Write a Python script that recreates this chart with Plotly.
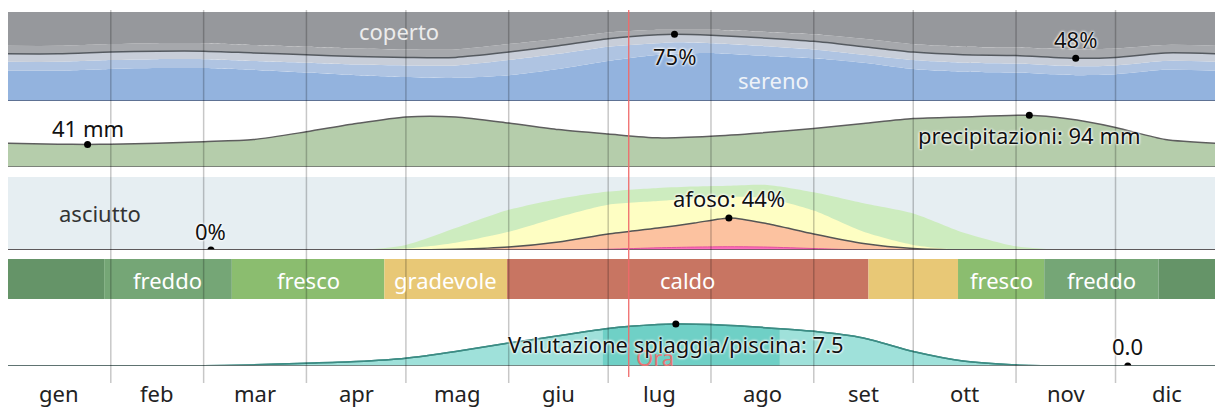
import plotly.graph_objects as go

# ---------------- data ----------------
months = ["gen", "feb", "mar", "apr", "mag", "giu", "lug", "ago", "set", "ott", "nov", "dic"]
month_start = [0, 31, 59, 90, 120, 151, 181, 212, 243, 273, 304, 334, 365]
today_day = 187.2

# cloud cover: cumulative % of time (from the clear side)
cloud_days = [0, 15, 31, 45, 59, 74, 90, 105, 120, 135, 151, 166, 181, 196, 201, 212,
              227, 243, 258, 273, 288, 304, 322, 334, 349, 365]
cloud_clear = [34, 34, 36, 37, 37, 35, 32, 29, 27, 26, 29, 36, 45, 52, 53, 54,
               51, 48, 43, 36, 33, 32, 29, 30, 35, 34]
cloud_mostly_clear = [44, 44, 46, 47, 47, 45, 43, 41, 40, 40, 46, 53, 61, 65, 66, 65,
                      62, 58, 52, 46, 43, 42, 39, 40, 45, 44]
cloud_partly = [53, 53, 55, 56, 56, 54, 52, 50, 49, 49, 55, 62, 70, 74.5, 75, 74,
                71, 67, 61, 55, 52, 51, 48, 49, 54, 53]
cloud_mostly_cloudy = [62, 62, 64, 65, 65, 63, 61, 59, 58, 58, 64, 70, 77, 80, 80, 80,
                       78, 75, 70, 64, 61, 60, 58, 59, 63, 62]
cloud_max = (201, 75)
cloud_min = (322, 48)

# monthly rainfall (mm, 31-day sliding)
precip_days = [0, 15, 24, 31, 45, 59, 74, 90, 105, 120, 135, 151, 166, 181, 196, 212,
               227, 243, 258, 273, 288, 308, 319, 334, 349, 365]
precip_mm = [43, 41.5, 41, 41.5, 43, 46, 50, 64, 79, 91, 91, 80, 68, 60, 53, 56,
             62, 70, 79, 88, 91, 94, 88, 72, 50, 43]
precip_min = (24, 41)
precip_max = (308, 94)

# humidity comfort: cumulative % of time
hum_days = [0, 105, 120, 135, 151, 166, 181, 196, 207, 218, 229, 243, 258, 273, 288, 304, 319, 365]
hum_miserable = [0, 0, 0, 0, 0, 0, 1, 3, 4, 4.5, 4, 2, 0, 0, 0, 0, 0, 0]
hum_muggy = [0, 0, 0, 1, 4, 11, 22, 30, 37, 44, 36, 22, 9, 2, 0, 0, 0, 0]
hum_humid = [0, 0, 2, 10, 25, 45, 62, 67, 71, 73, 71, 54, 25, 7, 0, 0, 0, 0]
hum_comfortable = [0, 0, 7, 30, 55, 70, 80, 85, 87, 88, 89, 79, 64, 50, 24, 5, 0, 0]
muggy_max = (217.4, 44)
muggy_min = (61.2, 0)

# perceived temperature bands
temp_edges = [0, 29, 67.5, 113.5, 150.5, 259.5, 286.5, 312.5, 347, 365]
temp_labels = ["", "freddo", "fresco", "gradevole", "caldo", "", "fresco", "freddo", ""]
temp_colors = ["#659468", "#75a676", "#8bbd6f", "#e8c876", "#c87562",
               "#e8c876", "#8bbd6f", "#75a676", "#659468"]

# beach / pool score (0-10)
beach_days = [0, 59, 74, 90, 105, 120, 135, 151, 166, 181, 196, 201, 212, 227, 243,
              258, 273, 288, 304, 319, 338, 365]
beach_score = [0, 0.05, 0.2, 0.5, 0.8, 1.4, 2.6, 4.1, 5.4, 6.7, 7.4, 7.5, 7.4, 6.9, 6.2,
               5.0, 2.6, 0.9, 0.2, 0.02, 0, 0]
beach_best = (179.4, 232.7)
beach_max = (201.4, 7.5)
beach_min = (337.7, 0.0)

# ---------------- layout helpers ----------------
W, H = 1215, 407
FONT = "Noto Sans"
FS = 22
HALO = "0 0 3px #ffffff, 0 0 3px #ffffff, 0 0 2px #ffffff"


def py(p):
    """pixel row -> paper fraction"""
    return 1 - p / H


SM = 0.7
fig = go.Figure()


def area(x, y, yaxis, color, fill, width=0, lcolor=None):
    fig.add_trace(go.Scatter(
        x=x, y=y, yaxis=yaxis, mode="lines", fill=fill, fillcolor=color,
        line=dict(shape="spline", smoothing=SM, width=width, color=lcolor or color),
        hoverinfo="skip"))


def curve(x, y, yaxis, color, width=1.5):
    fig.add_trace(go.Scatter(
        x=x, y=y, yaxis=yaxis, mode="lines",
        line=dict(shape="spline", smoothing=SM, width=width, color=color),
        hoverinfo="skip"))


def dot(x, y, yaxis):
    fig.add_trace(go.Scatter(x=[x], y=[y], yaxis=yaxis, mode="markers",
                             marker=dict(color="black", size=7), hoverinfo="skip"))


def label(text, x, y, yref, yshift=0, color="#111", size=FS, halo=True, **kw):
    f = dict(family=FONT, size=size, color=color)
    if halo:
        f["shadow"] = HALO
    fig.add_annotation(text=text, x=x, y=y, xref="x", yref=yref, yshift=yshift,
                       xanchor=kw.pop("xanchor", "center"), yanchor="middle",
                       showarrow=False, font=f, **kw)


# ---- clouds ----
top100 = [100] * len(cloud_days)
area(cloud_days, cloud_clear, "y", "#93b3de", "tozeroy")
area(cloud_days, cloud_mostly_clear, "y", "#afc4e2", "tonexty")
area(cloud_days, cloud_partly, "y", "#c8ced9", "tonexty")
area(cloud_days, cloud_mostly_cloudy, "y", "#a6a8ac", "tonexty")
area(cloud_days, top100, "y", "#96989c", "tonexty")
curve(cloud_days, cloud_partly, "y", "#555a60", 1.5)
dot(*cloud_max, "y")
dot(*cloud_min, "y")

# ---- precipitation ----
area(precip_days, precip_mm, "y2", "#b5cdab", "tozeroy", 1.5, "#5e5e5e")
dot(*precip_min, "y2")
dot(*precip_max, "y2")

# ---- humidity ----
area(hum_days, [100] * len(hum_days), "y3", "#e6eef2", "tozeroy")
area(hum_days, hum_comfortable, "y3", "#cdecbf", "tozeroy")
area(hum_days, hum_humid, "y3", "#fefec3", "tozeroy")
area(hum_days, hum_muggy, "y3", "#fcc2a0", "tozeroy")
area(hum_days, hum_miserable, "y3", "#ff6cbc", "tozeroy", 1.0, "#e0529f")
curve(hum_days, hum_muggy, "y3", "#555555", 1.5)
dot(*muggy_max, "y3")
dot(*muggy_min, "y3")

# ---- beach score ----
fig.add_shape(type="rect", xref="x", yref="y4", x0=beach_best[0], x1=beach_best[1],
              y0=0, y1=10, fillcolor="#95dad2", line_width=0, layer="below")
area(beach_days, beach_score, "y4", "rgba(80,200,188,0.55)", "tozeroy", 1.5, "#3c8c84")
area(beach_days, [10] * len(beach_days), "y4", "#ffffff", "tonexty")
curve(beach_days, beach_score, "y4", "#3c8c84", 1.5)
dot(*beach_max, "y4")
dot(*beach_min, "y4")

# ---- baselines ----
for yref, col in (("y", "#4d5d7b"), ("y2", "#6a6a6a"), ("y3", "#555555"), ("y4", "#6a6a6a")):
    fig.add_shape(type="line", xref="x", yref=yref, x0=0, x1=365, y0=0, y1=0,
                  line=dict(color=col, width=1.5), layer="above")

# ---- temperature band ----
for i, lab in enumerate(temp_labels):
    x0, x1 = temp_edges[i], temp_edges[i + 1]
    fig.add_shape(type="rect", xref="x", yref="paper", x0=x0, x1=x1,
                  y0=py(299), y1=py(259), fillcolor=temp_colors[i], line_width=0,
                  layer="below")
    if lab:
        label(lab, (x0 + x1) / 2, py(280), "paper", color="white", halo=False)

# ---- month grid and labels ----
for d in month_start[1:-1]:
    fig.add_shape(type="line", xref="x", yref="paper", x0=d, x1=d, y0=py(383), y1=py(10),
                  line=dict(color="rgba(0,0,0,0.22)", width=1.5), layer="above")
for i, m in enumerate(months):
    label(m, (month_start[i] + month_start[i + 1]) / 2, py(393), "paper",
          color="#222", halo=False)

# today marker
fig.add_shape(type="line", xref="x", yref="paper", x0=today_day, x1=today_day,
              y0=py(377), y1=py(10), line=dict(color="#f06a6a", width=1.3), layer="above")
label("Ora", today_day, py(357), "paper", color="#e57373", halo=False,
      xanchor="left", xshift=5)

# ---- text labels ----
label("coperto", 118, py(31), "paper", color="#ececec", halo=False)
label("sereno", 231, py(80), "paper", color="#eef2f8", halo=False)
label(f"{cloud_max[1]}%", cloud_max[0], cloud_max[1], "y", -22)
label(f"{cloud_min[1]}%", cloud_min[0], cloud_min[1], "y", 19)
label(f"{precip_min[1]} mm", precip_min[0], precip_min[1], "y2", 16)
label(f"precipitazioni: {precip_max[1]} mm", precip_max[0], precip_max[1], "y2", -20)
label("asciutto", 27.7, py(213), "paper", color="#333", halo=False)
label(f"{muggy_min[1]}%", muggy_min[0], muggy_min[1], "y3", 19)
label(f"afoso: {muggy_max[1]}%", muggy_max[0], muggy_max[1], "y3", 20)
label(f"Valutazione spiaggia/piscina: {beach_max[1]}", beach_max[0], beach_max[1], "y4", -20)
label(f"{beach_min[1]:.1f}", beach_min[0], beach_min[1], "y4", 20)

# ---- axes ----
hidden = dict(visible=False, fixedrange=True)
fig.update_layout(
    width=W, height=H,
    margin=dict(l=8, r=0, t=0, b=0),
    paper_bgcolor="white", plot_bgcolor="white",
    showlegend=False,
    font=dict(family=FONT, size=FS),
    xaxis=dict(range=[0, 364], **hidden),
    yaxis=dict(domain=[py(101), py(12)], range=[0, 100], anchor="x", **hidden),
    yaxis2=dict(domain=[py(167), py(101)], range=[0, 120], anchor="x", **hidden),
    yaxis3=dict(domain=[py(250), py(177)], range=[0, 100], anchor="x", **hidden),
    yaxis4=dict(domain=[py(366), py(310)], range=[0, 10], anchor="x", **hidden),
)

fig.write_html("out.html")
